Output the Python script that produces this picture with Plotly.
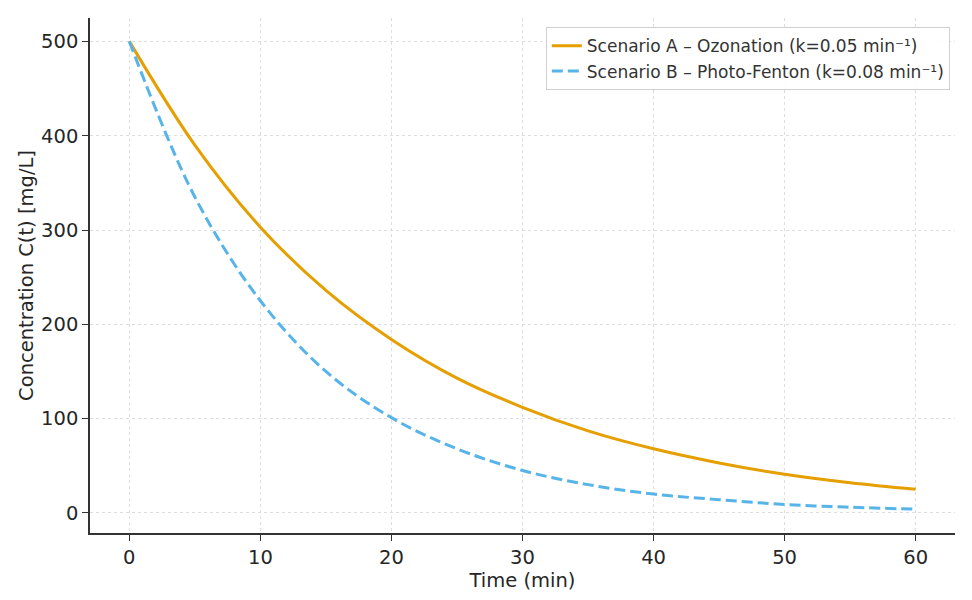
import plotly.graph_objects as go

time_min = [0, 5, 10, 15, 20, 25, 30, 35, 40, 45, 50, 55, 60]
conc_a = [500, 390, 303, 236, 184, 143, 112, 87, 68, 53, 41, 32, 25]
conc_b = [500, 335, 225, 150, 101, 68, 45, 30, 20, 14, 9, 6, 4]
name_a = "Scenario A – Ozonation (k=0.05 min⁻¹)"
name_b = "Scenario B – Photo-Fenton (k=0.08 min⁻¹)"
x_ticks = [0, 10, 20, 30, 40, 50, 60]
y_ticks = [0, 100, 200, 300, 400, 500]

fig = go.Figure()
fig.add_trace(go.Scatter(x=time_min, y=conc_a, mode="lines", name=name_a,
                         line=dict(color="#E69F00", width=3, shape="spline")))
fig.add_trace(go.Scatter(x=time_min, y=conc_b, mode="lines", name=name_b,
                         line=dict(color="#56B4E9", width=3, shape="spline", dash="11px,5px")))

axis_common = dict(showline=True, linecolor="#333333", linewidth=1.5,
                   ticks="outside", ticklen=6, tickcolor="#333333", tickwidth=1.2,
                   showgrid=True, gridcolor="#dddddd", griddash="dot", gridwidth=1,
                   zeroline=False, tickfont=dict(size=19.5, color="#262626"),
                   mirror=False)
fig.update_xaxes(range=[-3, 63], tickvals=x_ticks,
                 title=dict(text="Time (min)", font=dict(size=19.5, color="#262626"), standoff=4),
                 **axis_common)
fig.update_yaxes(range=[-21.3, 524.8], tickvals=y_ticks,
                 title=dict(text="Concentration C(t) [mg/L]", font=dict(size=19.5, color="#262626"), standoff=2),
                 **axis_common)

fig.update_layout(
    width=972, height=600,
    margin=dict(l=90, r=17, t=18, b=67),
    plot_bgcolor="white", paper_bgcolor="white",
    font=dict(family="DejaVu Sans", color="#262626"),
    legend=dict(x=0.994, y=0.982, xanchor="right", yanchor="top",
                bgcolor="rgba(255,255,255,0.9)", bordercolor="#d0d0d0", borderwidth=1,
                font=dict(size=17, color="#333333"), tracegroupgap=2),
    showlegend=True,
)

fig.write_html("out.html")
